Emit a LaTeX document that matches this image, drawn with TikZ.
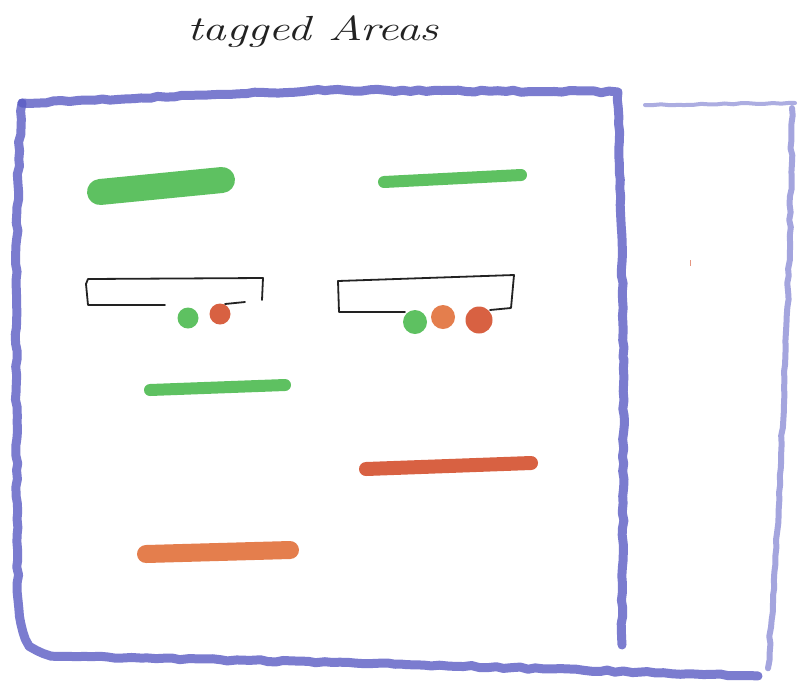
\documentclass[tikz,border=0pt]{standalone}
\usetikzlibrary{decorations.pathmorphing}
\definecolor{crayonblue}{HTML}{5A5CC4}
\definecolor{crayongreen}{HTML}{4DBB50}
\definecolor{crayonred}{HTML}{D4502E}
\definecolor{crayonorange}{HTML}{E2703A}
\definecolor{inkblack}{HTML}{222222}
\begin{document}
\begin{tikzpicture}[x=1pt,y=-1pt,
  frame/.style={draw=crayonblue,line width=9pt,opacity=0.8,line cap=round,line join=round,
    decorate,decoration={random steps,segment length=8pt,amplitude=1pt}},
  thinframe/.style={draw=crayonblue,line width=4pt,opacity=0.5,line cap=round,
    decorate,decoration={random steps,segment length=8pt,amplitude=0.6pt}},
  stroke/.style={line cap=round,opacity=0.9},
  box/.style={draw=inkblack,line width=1.8pt,line join=round,line cap=round},
  blob/.style={circle,inner sep=0pt,opacity=0.9}]
\useasboundingbox (0,0) rectangle (803,681);
\fill[white] (0,0) rectangle (803,681);
% title
\node[font=\itshape\Huge,text=inkblack,xscale=1.9,yscale=1.4] (title) at (313,32) {tagged Areas};
% main frame
\draw[frame] (22,103) -- (330,90) -- (618,92) -- (624,360) -- (622,645);
\draw[frame] (22,103) .. controls (14,200) and (16,400) .. (18,600) .. controls (20,640) and (30,655) .. (60,656) -- (400,664) -- (758,676);
% right panel
\draw[thinframe] (645,105) -- (795,103);
\draw[frame,opacity=0.55,line width=6pt] (792,108) .. controls (790,300) and (780,500) .. (768,668);
% green strokes
\draw[stroke,crayongreen,line width=26pt] (100,192) -- (222,180);
\draw[stroke,crayongreen,line width=12pt] (384,182) -- (521,175);
\draw[stroke,crayongreen,line width=12pt] (150,390) -- (285,385);
% red & orange strokes
\draw[stroke,crayonred,line width=14pt] (366,469) -- (531,463);
\draw[stroke,crayonorange,line width=18pt] (146,554) -- (290,550);
% boxes
\draw[box] (86,284) -- (88,279) -- (263,278) -- (262,300);
\draw[box] (86,284) -- (88,305) -- (165,305);
\draw[box] (225,304) -- (245,302);
\draw[box] (338,281) -- (514,275) -- (511,308) -- (490,310);
\draw[box] (338,281) -- (339,312) -- (405,312);
% dots
\node[blob,fill=crayongreen,minimum size=21pt] (g1) at (188,318) {};
\node[blob,fill=crayonred,minimum size=21pt] (r1) at (220,314) {};
\node[blob,fill=crayongreen,minimum size=24pt] (g2) at (415,322) {};
\node[blob,fill=crayonorange,minimum size=24pt] (o2) at (443,317) {};
\node[blob,fill=crayonred,minimum size=27pt] (r2) at (479,320) {};
% small mark
\draw[crayonred,opacity=0.6,line width=1pt] (690,260) -- (690,266);
\end{tikzpicture}
\end{document}
